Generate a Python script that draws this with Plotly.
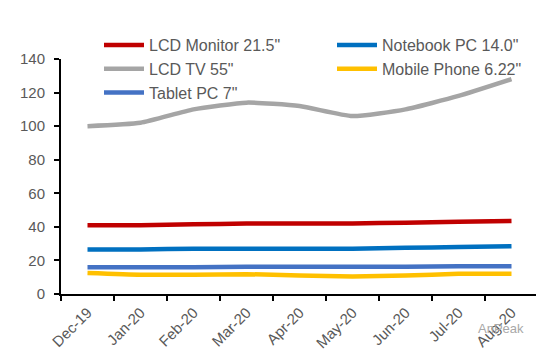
import plotly.graph_objects as go

months = ["Dec-19", "Jan-20", "Feb-20", "Mar-20", "Apr-20", "May-20", "Jun-20", "Jul-20", "Aug-20"]
lcd_monitor = [41, 41, 41.5, 42, 42, 42, 42.5, 43, 43.5]
notebook_pc = [26.5, 26.5, 27, 27, 27, 27, 27.5, 28, 28.5]
lcd_tv = [100, 102, 110, 114, 112, 106, 110, 118, 128]
mobile_phone = [12.5, 11.5, 11.5, 11.8, 11, 10.5, 11, 12, 12]
tablet_pc = [16, 16, 16, 16.2, 16.2, 16.2, 16.2, 16.5, 16.5]

series = [
    ('LCD Monitor 21.5"', lcd_monitor, "#C00000", "legend"),
    ('Notebook PC 14.0"', notebook_pc, "#0070C0", "legend2"),
    ('LCD TV 55"', lcd_tv, "#A5A5A5", "legend"),
    ('Mobile Phone 6.22"', mobile_phone, "#FFC000", "legend2"),
    ('Tablet PC 7"', tablet_pc, "#4472C4", "legend"),
]

fig = go.Figure()
for name, vals, color, lg in series:
    fig.add_trace(go.Scatter(
        x=months, y=vals, name=name, mode="lines", legend=lg,
        line=dict(color=color, width=4.5, shape="spline", smoothing=0.5),
    ))

W, H = 536, 352
leg_common = dict(
    orientation="v", xref="container", yref="container",
    xanchor="left", yanchor="top",
    font=dict(size=16, color="#595959"),
    bgcolor="rgba(0,0,0,0)", itemwidth=40, tracegroupgap=0,
)

fig.update_layout(
    width=W, height=H,
    margin=dict(l=53, r=6, t=51, b=66, autoexpand=False),
    paper_bgcolor="white", plot_bgcolor="white",
    font=dict(family="Liberation Sans, Arial", size=14, color="#595959"),
    showlegend=True,
    legend=dict(x=91 / W, y=1 - 20 / H, **leg_common),
    legend2=dict(x=324 / W, y=1 - 20 / H, **leg_common),
    xaxis=dict(
        type="category", tickson="boundaries", range=[-0.5, 8.5],
        showline=True, linecolor="black", linewidth=2,
        ticks="outside", ticklen=5, tickcolor="black", tickwidth=2,
        tickangle=-45, showgrid=False, zeroline=False, automargin=False,
        tickfont=dict(size=15, color="#595959"), ticklabelstandoff=2,
    ),
    yaxis=dict(
        range=[0, 140], dtick=20, tick0=0,
        showline=True, linecolor="black", linewidth=2,
        ticks="outside", ticklen=5, tickcolor="black", tickwidth=2,
        showgrid=False, zeroline=False, automargin=False,
        tickfont=dict(size=15, color="#595959"), ticklabelstandoff=6,
    ),
)

fig.add_annotation(
    text="AnPeak", xref="paper", yref="paper", x=0.975, y=-0.187,
    showarrow=False, font=dict(size=13, color="#A8A8A8"),
)

fig.write_html("out.html")
